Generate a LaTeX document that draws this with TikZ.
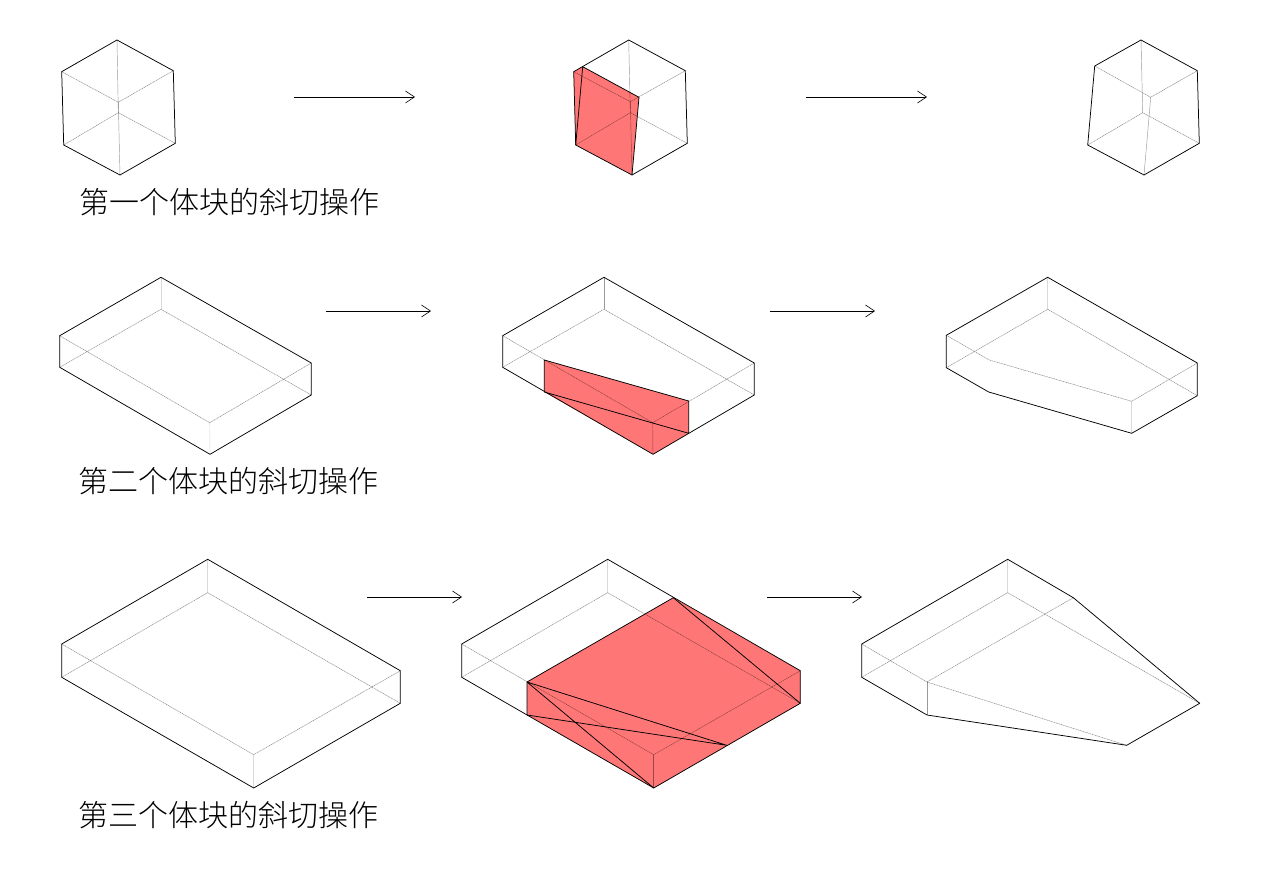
\documentclass[tikz,border=0pt]{standalone}
\usepackage{fontspec}
\usepackage{xcolor}
\usetikzlibrary{arrows.meta}
\newfontfamily\cjk{Noto Sans CJK SC Light}
\definecolor{cutred}{RGB}{255,118,118}
\tikzset{edge/.style={black,line width=0.75pt,line join=round},
  hid/.style={black,opacity=0.5,line width=0.45pt,dash pattern=on 1.2pt off 0.6pt},
  post/.style={black,opacity=0.4,line width=0.45pt},
  faint/.style={black,opacity=0.15,line width=0.45pt},
  cutface/.style={fill=cutred,draw=none},
  flow/.style={-{Straight Barb[length=9pt,width=12pt]},black,line width=0.6pt},
  lab/.style={font=\cjk\fontsize{30}{36}\selectfont,inner sep=0pt}}

\begin{document}
\begin{tikzpicture}[x=1pt,y=-1pt]
        \useasboundingbox (0,0) rectangle (1280,874);

        % first row: cube
        \draw [hid] (61.7,71.7) -- (118.3,102.3) -- (173.3,70.7);
        \draw [hid] (63.7,145) -- (118.3,112.7) -- (175.3,143.3);
        \draw [post] (117,40) -- (118.3,112.7);
        \draw [post] (118.3,102.3) -- (120,175);
        \draw [edge] (117,40) -- (173.3,70.7) -- (175.3,143.3) -- (120,175) -- (63.7,145) -- (61.7,71.7) -- cycle;

        \fill [cutface] (573.7,71.7) -- (582.7,66.7) -- (639,97.3) -- (632,175) -- (575.7,145) -- cycle;
        \draw [hid] (573.7,71.7) -- (630.3,101.7) -- (685.3,70.7);
        \draw [hid] (575.7,145) -- (630.3,112.7) -- (687.3,143.3);
        \draw [post] (628.7,40) -- (630.3,112.7);
        \draw [post] (630.3,101.7) -- (632,175);
        \draw [edge] (628.7,40) -- (685.3,70.7) -- (687.3,143.3) -- (632,175) -- (575.7,145) -- (573.7,71.7) -- cycle;
        \draw [edge] (575.7,145) -- (582.7,66.7) -- (639,97.3) -- (632,175);

        \draw [hid] (1094.7,66) -- (1150.7,97.3) -- (1197.3,70.7);
        \draw [hid] (1087.7,145) -- (1142.7,112.7) -- (1199.3,143.3);
        \draw [post] (1141,40) -- (1142.7,112.7);
        \draw [post] (1150.7,97.3) -- (1144,175);
        \draw [edge] (1141,40) -- (1197.3,70.7) -- (1199.3,143.3) -- (1144,175) -- (1087.7,145) -- (1094.7,66) -- cycle;

        % second row: flat block
        \draw [hid] (59.7,335.7) -- (209.7,422.7) -- (311.3,363);
        \draw [hid] (59.7,367.3) -- (161,309.3) -- (311.3,395);
        \draw [faint] (161,277.3) -- (161,309.3);
        \draw [faint] (209.7,422.7) -- (210,454.3);
        \draw [edge] (161,277.3) -- (311.3,363) -- (311.3,395) -- (210,454.3) -- (59.7,367.3) -- (59.7,335.7) -- cycle;

        \fill [cutface] (544.3,360) -- (688.7,401) -- (688.7,433.3) -- (653,454.3) -- (544.3,392) -- cycle;
        \draw [hid] (502.7,335.7) -- (652.7,422.7) -- (754.3,363);
        \draw [hid] (502.7,367.3) -- (604,309.3) -- (754.3,395);
        \draw [post] (604,277.3) -- (604,309.3);
        \draw [post] (652.7,422.7) -- (653,454.3);
        \draw [edge] (604,277.3) -- (754.3,363) -- (754.3,395) -- (653,454.3) -- (502.7,367.3) -- (502.7,335.7) -- cycle;
        \draw [edge] (544.3,392) -- (544.3,360) -- (688.7,401) -- (688.7,433.3) -- cycle;

        \draw [hid] (946.3,335.3) -- (989.3,360) -- (1131.7,401.3) -- (1197.3,363);
        \draw [hid] (946.3,367.7) -- (1047.7,309.3) -- (1197.3,395.7);
        \draw [faint] (1047.7,277.3) -- (1047.7,309.3);
        \draw [faint] (1131.7,401.3) -- (1131.7,433.3);
        \draw [edge] (1047.7,277.3) -- (1197.3,363) -- (1197.3,395.7) -- (1131.7,433.3) -- (988.7,392) -- (946.3,367.7) -- (946.3,335.3) -- cycle;

        % third row: large block
        \draw [hid] (61.7,644) -- (253.7,754.7) -- (400.3,670.7);
        \draw [hid] (61.7,677.3) -- (207.7,592.7) -- (400.3,703.3);
        \draw [faint] (207.7,559.3) -- (207.7,592.7);
        \draw [faint] (253.7,754.7) -- (253.7,788);
        \draw [edge] (207.7,559.3) -- (400.3,670.7) -- (400.3,703.3) -- (253.7,788) -- (61.7,677.3) -- (61.7,644) -- cycle;

        \fill [cutface] (673.3,597.7) -- (800.3,670.7) -- (800.3,703.3) -- (653.7,788) -- (527,715) -- (527,682) -- cycle;
        \draw [hid] (461.7,644) -- (653.7,754.7) -- (800.3,670.7);
        \draw [hid] (461.7,677.3) -- (607.7,592.7) -- (800.3,703.3);
        \draw [faint] (607.7,559.3) -- (607.7,592.7);
        \draw [post] (653.7,754.7) -- (653.7,788);
        \draw [edge] (607.7,559.3) -- (800.3,670.7) -- (800.3,703.3) -- (653.7,788) -- (461.7,677.3) -- (461.7,644) -- cycle;
        \draw [edge] (527,715) -- (527,682) -- (673.3,597.7) -- (800.3,703.3);
        \draw [edge] (653.7,788) -- (527,682) -- (726.7,745.3) -- (527,715);

        \draw [hid] (861.7,644) -- (927,682) -- (1126.7,745.3);
        \draw [hid] (927,682) -- (1073.3,597.7);
        \draw [hid] (861.7,677.3) -- (1007.7,592.7) -- (1199.7,703.3);
        \draw [faint] (1007.7,559.3) -- (1007.7,592.7);
        \draw [post] (927,682) -- (927,715);
        \draw [edge] (1007.7,559.3) -- (1073.3,597.7) -- (1199.7,703.3) -- (1126.7,745.3) -- (927,715) -- (861.7,677.3) -- (861.7,644) -- cycle;

        % arrows between the steps
        \coordinate (a1) at (294,97);   \coordinate (b1) at (415,97);
        \coordinate (a2) at (806,97);   \coordinate (b2) at (927,97);
        \coordinate (a3) at (326,311);  \coordinate (b3) at (431,311);
        \coordinate (a4) at (770,311);  \coordinate (b4) at (875,311);
        \coordinate (a5) at (367,597);  \coordinate (b5) at (462,597);
        \coordinate (a6) at (767,597);  \coordinate (b6) at (862,597);
        \draw [flow] (a1) -- (b1);
        \draw [flow] (a2) -- (b2);
        \draw [flow] (a3) -- (b3);
        \draw [flow] (a4) -- (b4);
        \draw [flow] (a5) -- (b5);
        \draw [flow] (a6) -- (b6);

        \node[lab] (c1) at (229.5,202) {第一个体块的斜切操作};
        \node[lab] (c2) at (228,481) {第二个体块的斜切操作};
        \node[lab] (c3) at (228,815) {第三个体块的斜切操作};
    \end{tikzpicture}
\end{document}
